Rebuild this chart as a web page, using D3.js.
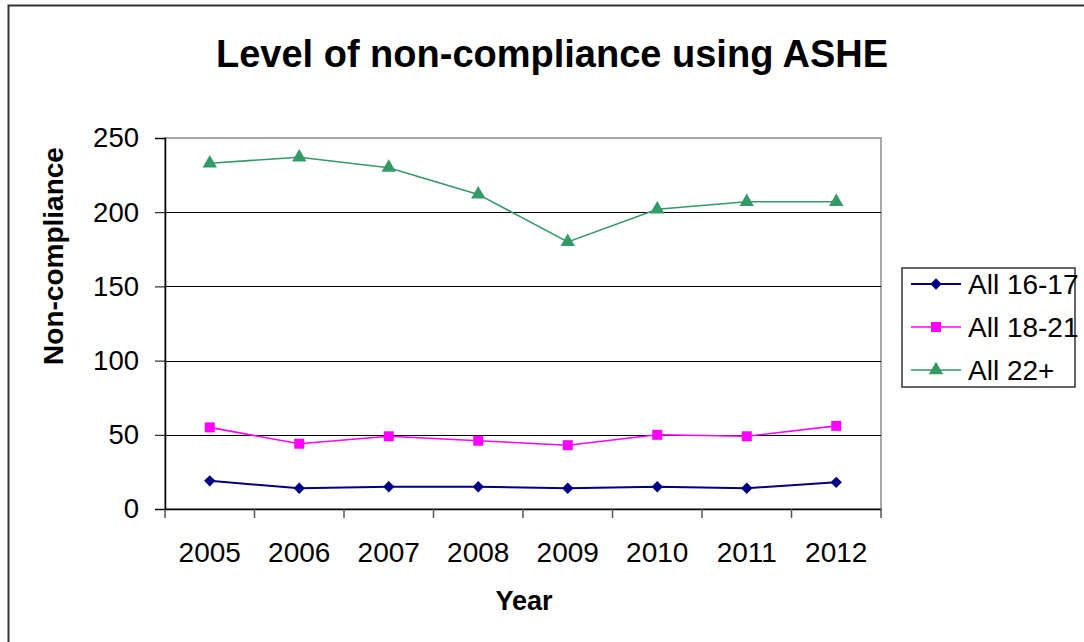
<!DOCTYPE html>
<html>
<head>
<meta charset="utf-8">
<script src="https://cdn.jsdelivr.net/npm/d3@7"></script>
<style>
  html, body { margin: 0; padding: 0; background: #fff; }
  svg { display: block; font-family: Arial, "Liberation Sans", sans-serif; }
</style>
</head>
<body>
<svg id="chart" width="1084" height="642"></svg>
<script>
// Chart data
const years = ["2005", "2006", "2007", "2008", "2009", "2010", "2011", "2012"];
const all1617 = [19, 14, 15, 15, 14, 15, 14, 18];
const all1821 = [55, 44, 49, 46, 43, 50, 49, 56];
const all22plus = [233, 237, 230, 212, 180, 202, 207, 207];
const yTicks = [0, 50, 100, 150, 200, 250];
const seriesNames = ["All 16-17", "All 18-21", "All 22+"];

// Diamonds are squares turned by 45 degrees
const series = [
  { name: seriesNames[0], values: all1617, color: "#000080", symbol: d3.symbolSquare, size: 64, rot: 45, width: 2 },
  { name: seriesNames[1], values: all1821, color: "#FF00FF", symbol: d3.symbolSquare, size: 100, rot: 0, width: 1.6 },
  { name: seriesNames[2], values: all22plus, color: "#339966", symbol: d3.symbolTriangle, size: 90, rot: 0, width: 1.6 }
];

const svg = d3.select("#chart");
const plot = { left: 165, right: 881, top: 138, bottom: 509 };

// Outer chart frame (runs off the right and bottom edges)
svg.append("rect")
  .attr("x", 8.5).attr("y", 5.5)
  .attr("width", 1200).attr("height", 800)
  .attr("fill", "none").attr("stroke", "#333").attr("stroke-width", 2);

const x = d3.scaleBand().domain(years).range([plot.left, plot.right]);
const y = d3.scaleLinear().domain([0, 250]).range([plot.bottom, plot.top]);

// Plot area border (top and right in grey)
svg.append("rect")
  .attr("x", plot.left).attr("y", plot.top)
  .attr("width", plot.right - plot.left).attr("height", plot.bottom - plot.top)
  .attr("fill", "none").attr("stroke", "#8c8c8c").attr("stroke-width", 1.5);

// Horizontal gridlines
svg.append("g").selectAll("line")
  .data(yTicks.filter(v => v > 0 && v < 250))
  .join("line")
  .attr("x1", plot.left).attr("x2", plot.right)
  .attr("y1", d => Math.round(y(d)) + 0.5).attr("y2", d => Math.round(y(d)) + 0.5)
  .attr("stroke", "#000").attr("stroke-width", 1);

// Y axis
const yAxis = svg.append("g")
  .attr("transform", `translate(${plot.left},0)`)
  .call(d3.axisLeft(y).tickValues(yTicks).tickSize(10).tickPadding(16));
yAxis.select(".domain").attr("stroke", "#000").attr("stroke-width", 1.5);
yAxis.selectAll(".tick line").attr("stroke", "#000");
yAxis.selectAll("text").attr("font-size", 27.5).attr("fill", "#000")
  .attr("font-family", "Arial, 'Liberation Sans', sans-serif");

// X axis: labels centred on categories, ticks at category boundaries
const xAxis = svg.append("g")
  .attr("transform", `translate(0,${plot.bottom})`)
  .call(d3.axisBottom(x).tickSize(0).tickPadding(33));
xAxis.select(".domain").attr("stroke", "#000").attr("stroke-width", 1.5);
xAxis.selectAll("text").attr("font-size", 28).attr("fill", "#000")
  .attr("font-family", "Arial, 'Liberation Sans', sans-serif");

const boundaries = years.map(d => x(d)).concat([x.range()[1]]);
svg.append("g").selectAll("line")
  .data(boundaries)
  .join("line")
  .attr("x1", d => d).attr("x2", d => d)
  .attr("y1", plot.bottom).attr("y2", plot.bottom + 9)
  .attr("stroke", "#555").attr("stroke-width", 1.5);

// Series lines and markers
const cx = d => x(d) + x.bandwidth() / 2;
const line = d3.line().x((v, i) => cx(years[i])).y(v => y(v));

series.forEach(s => {
  svg.append("path")
    .datum(s.values)
    .attr("d", line)
    .attr("fill", "none")
    .attr("stroke", s.color)
    .attr("stroke-width", s.width);
  svg.append("g").selectAll("path")
    .data(s.values)
    .join("path")
    .attr("d", d3.symbol().type(s.symbol).size(s.size))
    .attr("transform", (v, i) => `translate(${cx(years[i])},${y(v)}) rotate(${s.rot})`)
    .attr("fill", s.color);
});

// Title
svg.append("text")
  .attr("x", 552).attr("y", 67)
  .attr("text-anchor", "middle")
  .attr("font-size", 38).attr("font-weight", "bold")
  .text("Level of non-compliance using ASHE");

// Axis titles
svg.append("text")
  .attr("transform", "translate(63,256) rotate(-90)")
  .attr("text-anchor", "middle")
  .attr("font-size", 28).attr("font-weight", "bold")
  .text("Non-compliance");

svg.append("text")
  .attr("x", 524).attr("y", 610)
  .attr("text-anchor", "middle")
  .attr("font-size", 27).attr("font-weight", "bold")
  .text("Year");

// Legend
const legend = svg.append("g");
legend.append("rect")
  .attr("x", 902).attr("y", 268)
  .attr("width", 173).attr("height", 119)
  .attr("fill", "#fff").attr("stroke", "#333").attr("stroke-width", 1.5);

const legendRows = [284, 327, 370];
series.forEach((s, i) => {
  const g = legend.append("g").attr("transform", `translate(0,${legendRows[i]})`);
  g.append("line").attr("x1", 911).attr("x2", 961).attr("y1", 0).attr("y2", 0)
    .attr("stroke", s.color).attr("stroke-width", s.width);
  g.append("path").attr("d", d3.symbol().type(s.symbol).size(s.size))
    .attr("transform", `translate(936,0) rotate(${s.rot})`).attr("fill", s.color);
  g.append("text").attr("x", 968).attr("y", 0).attr("dy", "0.36em")
    .attr("font-size", 28).text(s.name);
});
</script>
</body>
</html>
